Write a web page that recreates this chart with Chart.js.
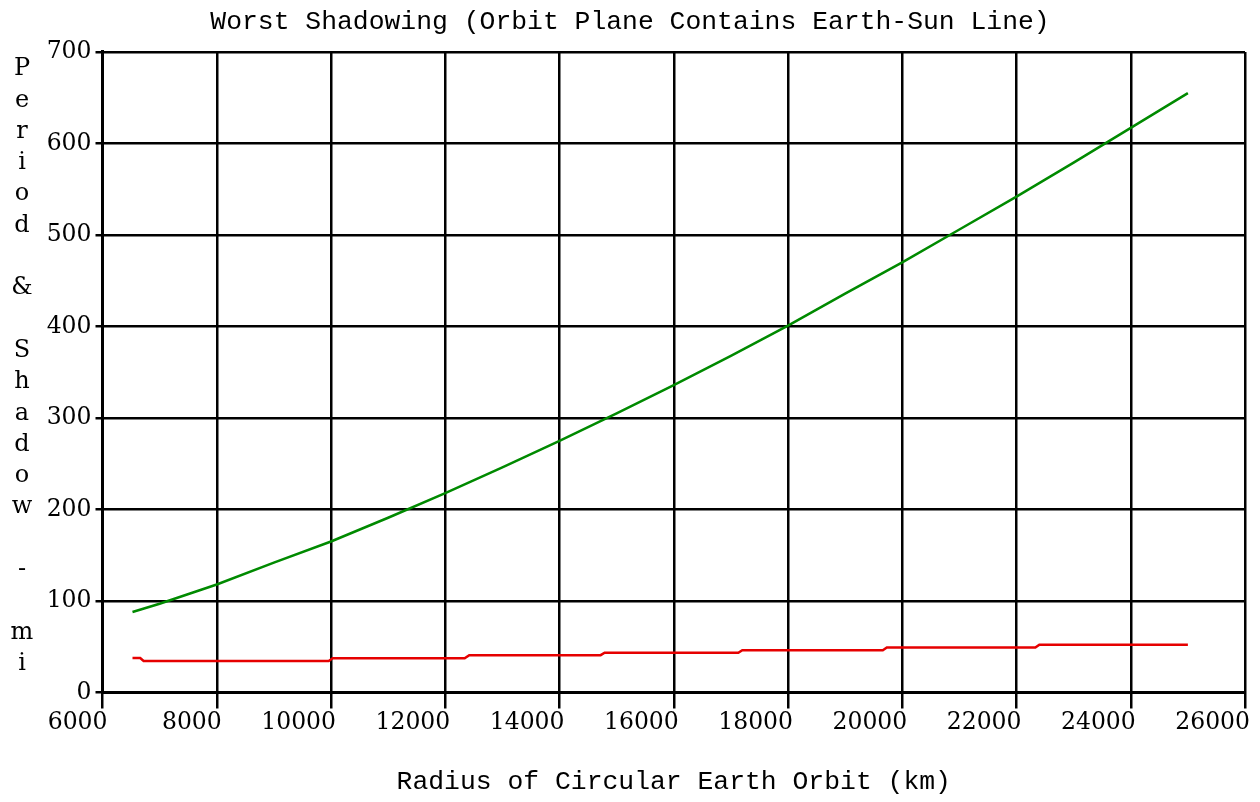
<!DOCTYPE html>
<html>
<head>
<meta charset="utf-8">
<script src="https://cdn.jsdelivr.net/npm/chart.js@4.4.0/dist/chart.umd.min.js"></script>
<style>
html, body { margin: 0; padding: 0; background: #fff; }
</style>
</head>
<body>
<canvas id="chart1" width="1260" height="802"></canvas>
<script>
var chartTitle = 'Worst Shadowing (Orbit Plane Contains Earth-Sun Line)'
var xTitle = 'Radius of Circular Earth Orbit (km)'
var yTitle = 'Period & Shadow - mi'

// orbital period, minutes (green curve)
var periodRadius = [6525, 7000, 8000, 9000, 10000, 11000, 12000, 13000, 14000, 15000,
    16000, 17000, 18000, 19000, 20000, 21000, 22000, 23000, 24000, 25000]
var periodMinutes = [88, 97, 118, 142, 165, 191, 218, 246, 275, 305,
    336, 368, 401, 436, 470, 506, 542, 579, 617, 655]

// worst shadow duration, minutes (red steps)
var shadowRadius = [6525, 6660, 6720, 9960, 10030, 12340, 12420, 14720, 14790,
    17130, 17200, 19660, 19730, 22330, 22400, 25000]
var shadowMinutes = [37.6, 37.6, 34.4, 34.4, 37.4, 37.4, 40.8, 40.8, 43.5,
    43.5, 46.2, 46.2, 49.1, 49.1, 52.2, 52.2]

// axes
var xTickValues = [6000, 8000, 10000, 12000, 14000, 16000, 18000, 20000, 22000, 24000, 26000]
var yTickValues = [0, 100, 200, 300, 400, 500, 600, 700]

function toPoints(xs, ys) {
    var pts = []
    for (var i = 0; i < xs.length; i++) {
        pts.push({x: xs[i], y: ys[i]})
    }
    return pts
}

var green = '#008a00'
var red = '#e60000'
var tickFont = {family: '"DejaVu Serif", serif', size: 23.5}
var monoFont = {family: '"Liberation Mono", monospace', size: 26.4}

// y title is written one letter per row, like the original
var stackedYTitle = {
    id: 'stackedYTitle',
    afterDraw: function(chart) {
        var ctx = chart.ctx
        ctx.save()
        ctx.font = '24px "DejaVu Serif"'
        ctx.fillStyle = '#000'
        ctx.textAlign = 'center'
        ctx.textBaseline = 'middle'
        var chars = yTitle.split('')
        for (var i = 0; i < chars.length; i++) {
            ctx.fillText(chars[i], 22, 69 + i * 31.3)
        }
        ctx.restore()
    }
}

new Chart(document.getElementById('chart1'), {
    type: 'line',
    data: {
        datasets: [{
            label: 'Period',
            data: toPoints(periodRadius, periodMinutes),
            borderColor: green,
            borderWidth: 2.5,
            pointRadius: 0,
            tension: 0
        }, {
            label: 'Shadow',
            data: toPoints(shadowRadius, shadowMinutes),
            borderColor: red,
            borderWidth: 2.5,
            pointRadius: 0,
            tension: 0
        }]
    },
    plugins: [stackedYTitle],
    options: {
        responsive: false,
        animation: false,
        layout: {padding: {left: 15, right: 15, top: 0, bottom: 0}},
        plugins: {
            legend: {display: false},
            tooltip: {enabled: false},
            title: {
                display: true,
                text: chartTitle,
                color: '#000',
                font: {family: monoFont.family, size: 26.4, weight: 'normal'},
                padding: {top: 6, bottom: 14.3}
            }
        },
        scales: {
            x: {
                type: 'linear',
                min: xTickValues[0],
                max: xTickValues[xTickValues.length - 1],
                afterBuildTicks: function(scale) {
                    scale.ticks = xTickValues.map(function(v) { return {value: v} })
                },
                afterFit: function(scale) { scale.height = 109.5 },
                ticks: {
                    color: '#000',
                    font: tickFont,
                    align: 'end',
                    labelOffset: 5,
                    padding: 0,
                    autoSkip: false,
                    maxRotation: 0,
                    callback: function(v) { return String(v) }
                },
                grid: {color: '#000', lineWidth: 2.5, tickLength: 16, tickColor: '#000'},
                border: {color: '#000', width: 3},
                title: {
                    display: true,
                    text: xTitle,
                    color: '#000',
                    font: monoFont,
                    padding: {top: 0, bottom: 4}
                }
            },
            y: {
                min: yTickValues[0],
                max: yTickValues[yTickValues.length - 1],
                afterBuildTicks: function(scale) {
                    scale.ticks = yTickValues.map(function(v) { return {value: v} })
                },
                afterFit: function(scale) { scale.width = 87.5 },
                ticks: {
                    color: '#000',
                    font: tickFont,
                    padding: 4,
                    callback: function(v) { return String(v) }
                },
                grid: {color: '#000', lineWidth: 2.5, tickLength: 7, tickColor: '#000'},
                border: {color: '#000', width: 3}
            }
        }
    }
});
</script>
</body>
</html>
